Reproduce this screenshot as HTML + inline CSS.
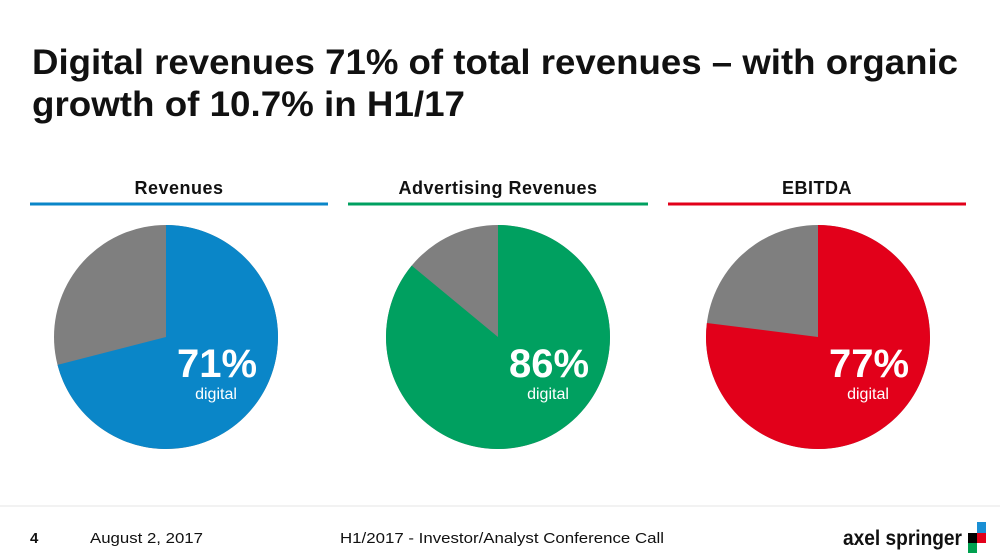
<!DOCTYPE html>
<html><head><meta charset="utf-8">
<style>
body{margin:0;width:1000px;height:560px;background:#fff;overflow:hidden;font-family:"Liberation Sans",Arial,sans-serif;}
svg{position:absolute;left:0;top:0}
</style></head>
<body>
<svg width="1000" height="560">
<text x="32" y="74" font-size="35" font-weight="bold" fill="#111" textLength="926" lengthAdjust="spacingAndGlyphs">Digital revenues 71% of total revenues – with organic</text>
<text x="32" y="116" font-size="35" font-weight="bold" fill="#111" textLength="433" lengthAdjust="spacingAndGlyphs">growth of 10.7% in H1/17</text>
<g id="pies"></g>
<line x1="0" y1="506" x2="1000" y2="506" stroke="#e6e6e6" stroke-width="1"/>
<text x="30" y="543" font-size="15" font-weight="bold" fill="#111">4</text>
<text x="90" y="543" font-size="15" fill="#111" textLength="113" lengthAdjust="spacingAndGlyphs">August 2, 2017</text>
<text x="340" y="543" font-size="15" fill="#111" textLength="324" lengthAdjust="spacingAndGlyphs">H1/2017 - Investor/Analyst Conference Call</text>
<text x="843" y="545" font-size="21" font-weight="bold" fill="#111" textLength="119" lengthAdjust="spacingAndGlyphs">axel springer</text>
<g>
<rect x="977" y="522" width="9" height="11" fill="#1a8fd4"/>
<rect x="968" y="533" width="9" height="10" fill="#000"/>
<rect x="977" y="533" width="9" height="10" fill="#e2001a"/>
<rect x="968" y="543" width="9" height="10" fill="#00a04f"/>
</g>
</svg>
<script>
const categories = ["Revenues","Advertising Revenues","EBITDA"];
const digitalShare = [71,86,77];
const shareLabels = ["71%","86%","77%"];
const colors = ["#0a86c8","#00a060","#e2001a"];
const centersX = [166,498,818];
const lineX = [[30,328],[348,648],[668,966]];
const NS = "http://www.w3.org/2000/svg";
const g = document.getElementById('pies');
const cy = 337, r = 112;
function mk(tag, attrs){const e=document.createElementNS(NS,tag);for(const k in attrs)e.setAttribute(k,attrs[k]);return e;}
function pt(cx,frac){const a=2*Math.PI*frac;return [cx+r*Math.sin(a), cy-r*Math.cos(a)];}
categories.forEach((c,i)=>{
  const cx=centersX[i];
  const t=mk('text',{x:(lineX[i][0]+lineX[i][1])/2,y:194,'font-size':18,'font-weight':'bold','text-anchor':'middle',fill:'#111','letter-spacing':'0.5'});
  t.textContent=c;
  
  
  g.appendChild(t);
  const l=mk('line',{x1:lineX[i][0],x2:lineX[i][1],y1:204,y2:204,stroke:colors[i],'stroke-width':3});
  
  
  g.appendChild(l);
  const f=digitalShare[i]/100;
  const bg=mk('circle',{cx:cx,cy:cy,r:r,fill:'#7f7f7f'});
  
  
  g.appendChild(bg);
  const [x,y]=pt(cx,f);
  const p=mk('path',{d:`M${cx},${cy} L${cx},${cy-r} A${r},${r} 0 ${f>0.5?1:0} 1 ${x},${y} Z`,fill:colors[i]});
  
  
  g.appendChild(p);
  const v=mk('text',{x:cx+51,y:377,'font-size':40,'font-weight':'bold','text-anchor':'middle',fill:'#fff'});
  v.textContent=shareLabels[i];
  
  
  g.appendChild(v);
  const d=mk('text',{x:cx+50,y:399,'font-size':16,'text-anchor':'middle',fill:'#fff'});
  d.textContent='digital';
  
  
  g.appendChild(d);
});
</script>
</body></html>
